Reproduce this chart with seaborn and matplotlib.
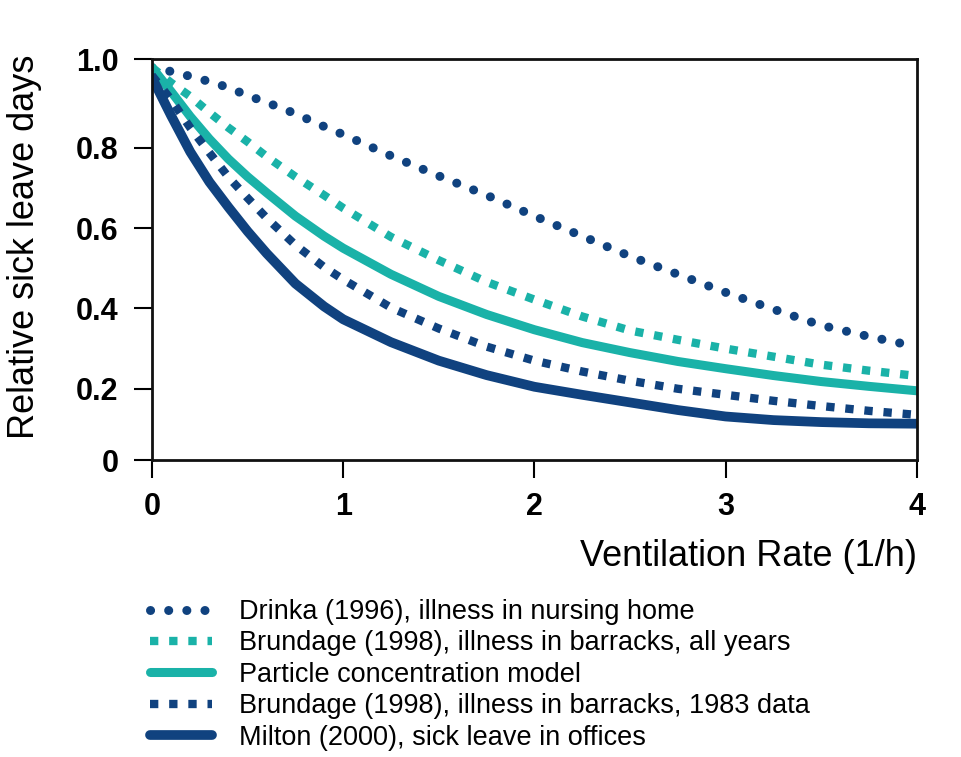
import numpy as np
import pandas as pd
import matplotlib
matplotlib.use("Agg")
import matplotlib.pyplot as plt
import seaborn as sns

# ---------------------------------
# Data
# ---------------------------------
vent_rate = [0, 0.1, 0.2, 0.3, 0.4, 0.5, 0.6, 0.75, 0.9, 1.0, 1.25, 1.5,
             1.75, 2, 2.25, 2.5, 2.75, 3, 3.25, 3.5, 3.75, 4]

drinka = [1.0, 0.99, 0.978, 0.965, 0.95, 0.93, 0.913, 0.885, 0.853, 0.833,
          0.78, 0.73, 0.682, 0.63, 0.58, 0.53, 0.485, 0.44, 0.398, 0.358,
          0.33, 0.305]
brundage_all = [1.0, 0.962, 0.928, 0.888, 0.85, 0.815, 0.778, 0.728, 0.682,
                0.65, 0.578, 0.52, 0.466, 0.422, 0.38, 0.345, 0.322, 0.30,
                0.28, 0.26, 0.245, 0.232]
particle = [1.0, 0.94, 0.878, 0.822, 0.772, 0.728, 0.688, 0.63, 0.58, 0.55,
            0.485, 0.43, 0.385, 0.347, 0.315, 0.29, 0.268, 0.25, 0.233,
            0.218, 0.206, 0.195]
brundage_1983 = [0.98, 0.92, 0.85, 0.788, 0.727, 0.675, 0.625, 0.558, 0.503,
                 0.472, 0.402, 0.35, 0.305, 0.27, 0.243, 0.22, 0.2, 0.185,
                 0.17, 0.157, 0.145, 0.135]
milton = [0.975, 0.88, 0.79, 0.715, 0.652, 0.592, 0.537, 0.462, 0.405, 0.373,
          0.316, 0.27, 0.234, 0.205, 0.185, 0.166, 0.147, 0.131, 0.122,
          0.117, 0.114, 0.113]

labels = [
    "Drinka (1996), illness in nursing home",
    "Brundage (1998), illness in barracks, all years",
    "Particle concentration model",
    "Brundage (1998), illness in barracks, 1983 data",
    "Milton (2000), sick leave in offices",
]

DARK = "#10427f"
TEAL = "#1ab2a8"

sns.set_style("ticks")
plt.rcParams["font.family"] = ["Liberation Sans", "DejaVu Sans"]
plt.rcParams["text.color"] = "black"
plt.rcParams["axes.labelcolor"] = "black"
plt.rcParams["xtick.color"] = "black"
plt.rcParams["ytick.color"] = "black"

fig = plt.figure(figsize=(9.62, 7.57), dpi=100)
ax = fig.add_axes([0.158, 0.392, 0.795, 0.530])

series = [
    (drinka, DARK, 6.5, (0, (0.01, 2.0)), "round"),
    (brundage_all, TEAL, 6.0, (0, (1.0, 1.3)), "butt"),
    (particle, TEAL, 6.5, "-", "butt"),
    (brundage_1983, DARK, 6.0, (0, (1.0, 1.3)), "butt"),
    (milton, DARK, 7.0, "-", "butt"),
]

for (vals, col, lw, ls, cap), lab in zip(series, labels):
    sns.lineplot(x=vent_rate, y=vals, ax=ax, color=col, lw=lw,
                 linestyle=ls, dash_capstyle=cap, label=lab, legend=False)

# axes limits and ticks
y_lo, y_hi = 0.022, 1.021
ax.set_xlim(0, 4)
ax.set_ylim(y_lo, y_hi)
ax.set_xticks([0, 1, 2, 3, 4])
ax.set_xticklabels(["0", "1", "2", "3", "4"])
ax.set_yticks([y_lo, 0.2, 0.4, 0.6, 0.8, y_hi])
ax.set_yticklabels(["0", "0.2", "0.4", "0.6", "0.8", "1.0"])

for lab in ax.get_xticklabels() + ax.get_yticklabels():
    lab.set_fontweight("bold")
    lab.set_fontsize(22)

ax.tick_params(axis="both", length=13, width=1.5, color="black")
ax.tick_params(axis="x", pad=10)
ax.tick_params(axis="y", pad=11)
for side in ["left", "right", "top", "bottom"]:
    ax.spines[side].set_visible(True)
    ax.spines[side].set_linewidth(2)
    ax.spines[side].set_color("#111111")

ax.set_xlabel("Ventilation Rate (1/h)", fontsize=26, loc="right", labelpad=12)
ax.set_ylabel("Relative sick leave days", fontsize=26)
ax.yaxis.set_label_coords(-0.144, 0.531)

# ---------------------------------
# Legend below the plot
# ---------------------------------
handles, labs = ax.get_legend_handles_labels()
if ax.get_legend() is not None:
    ax.get_legend().remove()
fig.legend(handles, labs, loc="upper left",
           bbox_to_anchor=(150 / 962, 1 - 599 / 757),
           frameon=False, fontsize=19.5, handlelength=2.3,
           handletextpad=1.0, labelspacing=0.2,
           borderpad=0, borderaxespad=0)

plt.savefig("out.png", dpi=100)
